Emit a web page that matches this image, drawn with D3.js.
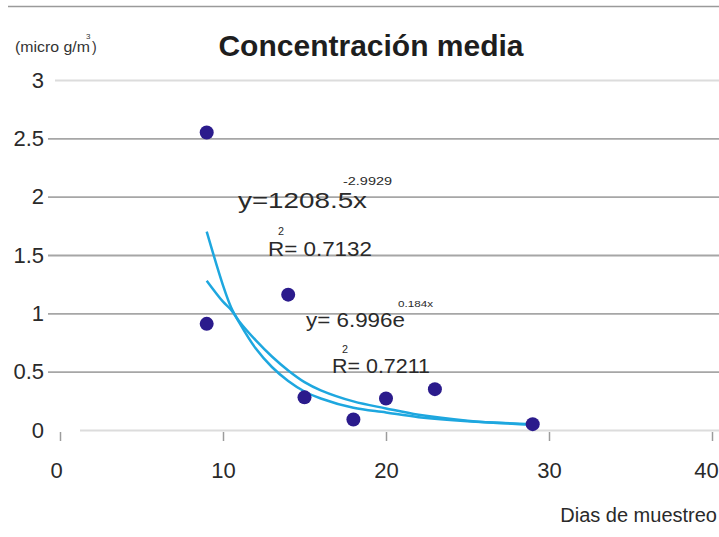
<!DOCTYPE html>
<html>
<head>
<meta charset="utf-8">
<script src="https://cdn.jsdelivr.net/npm/d3@7"></script>
<style>
  body { margin: 0; background: #fff; }
  svg { display: block; font-family: "Liberation Sans", Arial, Helvetica, sans-serif; }
</style>
</head>
<body>
<svg id="chart" width="719" height="537"></svg>
<script>
// datos
var dias = [9, 9, 14, 15, 18, 20, 23, 29];
var concentracion = [2.55, 0.91, 1.16, 0.28, 0.09, 0.27, 0.35, 0.05];

// lineas de tendencia
var tendX = [9, 10, 10.5, 11, 12, 13, 14, 15, 16, 18, 20, 22, 25, 29];
var tendPotencial = [1.70, 1.24, 1.05, 0.92, 0.70, 0.54, 0.42, 0.33, 0.27, 0.19, 0.15, 0.11, 0.075, 0.05];
var tendExponencial = [1.28, 1.10, 1.03, 0.93, 0.77, 0.63, 0.51, 0.41, 0.34, 0.245, 0.185, 0.13, 0.08, 0.045];

var xTicks = [0, 10, 20, 30, 40];
var yTicks = [0, 0.5, 1, 1.5, 2, 2.5, 3];

var svg = d3.select("#chart");

var x = d3.scaleLinear().domain([0, 40]).range([60, 712]);
var y = d3.scaleLinear().domain([0, 3]).range([430, 80]);

// linea superior
svg.append("line")
  .attr("x1", 8).attr("x2", 719).attr("y1", 6.5).attr("y2", 6.5)
  .attr("stroke", "#9a9a9a").attr("stroke-width", 1.5);

// eje y con lineas de cuadricula
var gy = svg.append("g")
  .attr("transform", "translate(48,0)")
  .call(d3.axisLeft(y).tickValues(yTicks).tickSize(-(719 - 48)).tickPadding(4)
    .tickFormat(function(d) { return String(d); }));
gy.select(".domain").remove();
gy.selectAll(".tick line")
  .attr("stroke", function(d) { return (d == 0 || d == 3) ? "#dcdcdc" : "#a6a6a6"; })
  .attr("stroke-width", 1.8)
  .attr("x1", function(d) { return d == 0 ? 32 : (d == 3 ? 7 : 0); });
gy.selectAll(".tick text")
  .attr("fill", "#2a2a2a")
  .style("font-size", "22px");

// eje x
var gx = svg.append("g")
  .attr("transform", "translate(0,432)")
  .call(d3.axisBottom(x).tickValues(xTicks).tickSize(9).tickPadding(21));
gx.select(".domain").remove();
gx.selectAll(".tick line").attr("stroke", "#9c9c9c").attr("stroke-width", 1.5);
gx.selectAll(".tick text")
  .attr("fill", "#2a2a2a")
  .attr("dx", function(d) { return d == 40 ? -6 : (d == 0 ? -4 : 0); })
  .style("font-size", "22px");

// titulo
svg.append("text")
  .attr("x", 371).attr("y", 56)
  .attr("text-anchor", "middle")
  .attr("font-weight", "bold")
  .attr("font-size", 30)
  .attr("fill", "#1e1e1e")
  .text("Concentración media");

// unidades
svg.append("text")
  .attr("x", 15).attr("y", 52)
  .attr("font-size", 14)
  .attr("fill", "#333")
  .attr("textLength", 75).attr("lengthAdjust", "spacingAndGlyphs")
  .text("(micro g/m");
svg.append("text").attr("x", 86).attr("y", 39).attr("font-size", 8).attr("fill", "#333").text("3");
svg.append("text").attr("x", 92).attr("y", 52).attr("font-size", 14).attr("fill", "#333").text(")");

// titulo eje x
svg.append("text")
  .attr("x", 717).attr("y", 522)
  .attr("text-anchor", "end")
  .attr("font-size", 20)
  .attr("fill", "#2a2a2a")
  .text("Dias de muestreo");

// curvas de tendencia
var linea = d3.line()
  .x(function(d) { return x(d[0]); })
  .y(function(d) { return y(d[1]); })
  .curve(d3.curveCatmullRom.alpha(0.5));

[tendPotencial, tendExponencial].forEach(function(serie) {
  svg.append("path")
    .datum(tendX.map(function(v, i) { return [v, serie[i]]; }))
    .attr("d", linea)
    .attr("fill", "none")
    .attr("stroke", "#1ea7df")
    .attr("stroke-width", 2.5);
});

// puntos
svg.selectAll(".punto")
  .data(dias.map(function(d, i) { return [d, concentracion[i]]; }))
  .enter().append("circle")
  .attr("class", "punto")
  .attr("cx", function(d) { return x(d[0]); })
  .attr("cy", function(d) { return y(d[1]); })
  .attr("r", 7)
  .attr("fill", "#2b1b8c");

// ecuaciones
function etiqueta(tx, ty, size, len, txt) {
  svg.append("text")
    .attr("x", tx).attr("y", ty)
    .attr("font-size", size)
    .attr("fill", "#2a2a2a")
    .attr("textLength", len).attr("lengthAdjust", "spacingAndGlyphs")
    .text(txt);
}
etiqueta(238, 208, 22, 129, "y=1208.5x");
etiqueta(343, 185, 10, 49, "-2.9929");
etiqueta(268, 256, 20, 104, "R= 0.7132");
etiqueta(278, 235, 10, 6, "2");
etiqueta(306, 327, 20, 99, "y= 6.996e");
etiqueta(398, 307, 9, 35, "0.184x");
etiqueta(332, 373, 20, 98, "R= 0.7211");
etiqueta(342, 353, 10, 6, "2");
</script>
</body>
</html>
